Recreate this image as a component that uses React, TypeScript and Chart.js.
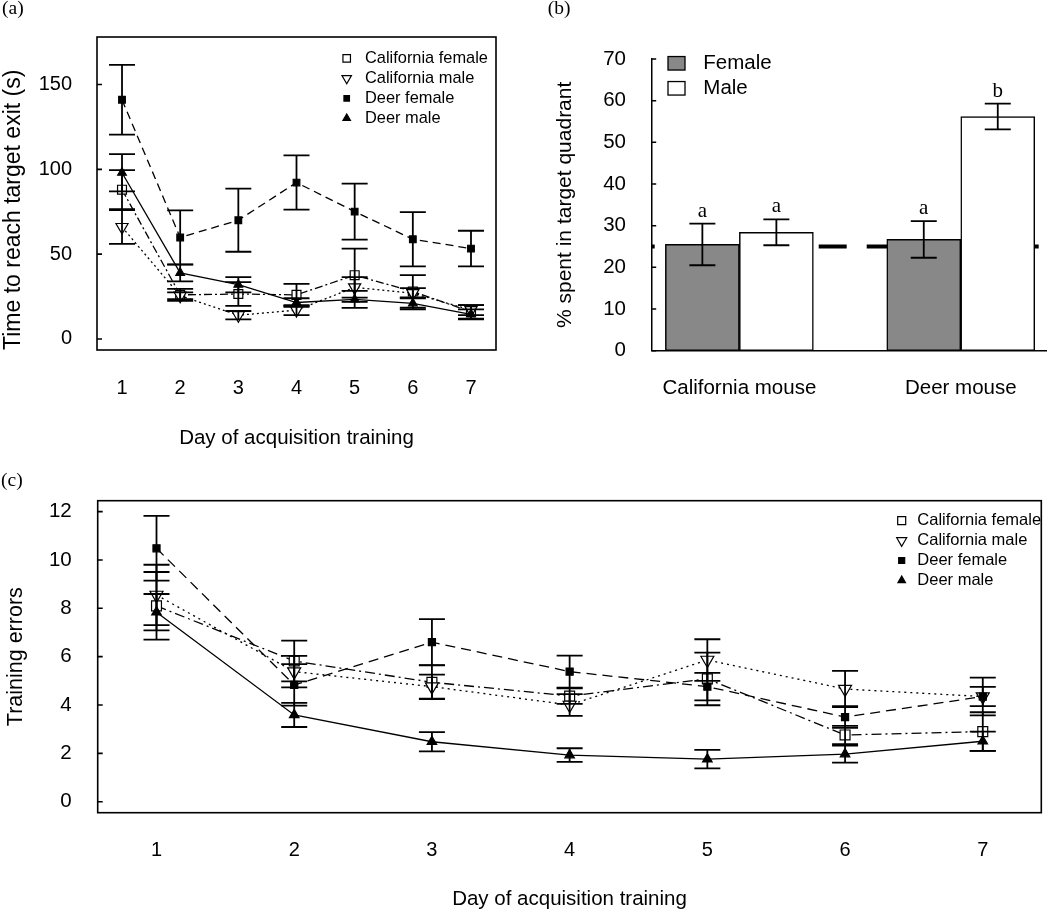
import React, { useEffect, useRef } from 'react';
import { Chart, registerables } from 'chart.js';

Chart.register(...registerables);

const SANS = '"Liberation Sans", Arial, Helvetica, sans-serif';
const SERIF = '"Liberation Serif", "Times New Roman", serif';
Chart.defaults.font.family = SANS;
Chart.defaults.color = '#000';

// ---------------- data ----------------
const DAYS = [1, 2, 3, 4, 5, 6, 7];
const GROUPS = ['California female', 'California male', 'Deer female', 'Deer male'];

// (a) Time to reach target exit (s)
const TIME_CAL_FEMALE = [88, 26, 26.5, 26, 37.6, 28, 16];
const TIME_CAL_FEMALE_SE = [11.5, 3.5, 7, 6.5, 15.7, 9.6, 4];
const TIME_CAL_MALE = [66, 25.5, 14, 17, 30.4, 27, 17];
const TIME_CAL_MALE_SE = [10, 2, 2.5, 3, 6, 3, 3];
const TIME_DEER_FEMALE = [141, 59.8, 70, 92.2, 75.1, 58.8, 53.3];
const TIME_DEER_FEMALE_SE = [20.6, 16, 18.6, 16, 16.5, 16, 10.5];
const TIME_DEER_MALE = [98, 39, 32, 21.5, 23.3, 21, 14.5];
const TIME_DEER_MALE_SE = [11, 5, 4.5, 2.5, 5, 3.5, 3];
const TIME_TICKS = [0, 50, 100, 150];

// (b) % spent in target quadrant
const SPECIES = ['California mouse', 'Deer mouse'];
const SPECIES_POS = [1, 2];
const SEXES = ['Female', 'Male'];
const QUAD_FEMALE = [25.5, 26.7];
const QUAD_FEMALE_SE = [5, 4.4];
const QUAD_MALE = [28.4, 56.2];
const QUAD_MALE_SE = [3.1, 3.1];
const QUAD_FEMALE_LETTERS = ['a', 'a'];
const QUAD_MALE_LETTERS = ['a', 'b'];
const CHANCE_LEVEL = 25;
const QUAD_TICKS = [0, 10, 20, 30, 40, 50, 60, 70];

// (c) Training errors
const ERR_CAL_FEMALE = [8.1, 5.82, 4.94, 4.37, 5.08, 2.76, 2.9];
const ERR_CAL_FEMALE_SE = [1.4, 0.84, 0.7, 0.32, 1.09, 0.38, 0.8];
const ERR_CAL_MALE = [8.55, 5.38, 4.76, 4.0, 5.86, 4.66, 4.35];
const ERR_CAL_MALE_SE = [1.25, 0.65, 0.5, 0.45, 0.86, 0.75, 0.4];
const ERR_DEER_FEMALE = [10.48, 4.83, 6.6, 5.38, 4.76, 3.5, 4.35];
const ERR_DEER_FEMALE_SE = [1.34, 0.86, 0.95, 0.66, 0.57, 0.45, 0.78];
const ERR_DEER_MALE = [7.84, 3.59, 2.48, 1.93, 1.76, 1.97, 2.5];
const ERR_DEER_MALE_SE = [0.75, 0.5, 0.4, 0.28, 0.38, 0.35, 0.4];
const ERR_TICKS = [0, 2, 4, 6, 8, 10, 12];

// ---------------- styles ----------------
type MarkerKind = 'square' | 'triUp' | 'triDown';
const GROUP_MARKER: MarkerKind[] = ['square', 'triDown', 'square', 'triUp'];
const GROUP_FILLED = [false, false, true, true];
const GROUP_ORDER = [3, 2, 1, 0];
const DASH_A = [[8, 3, 2, 3], [2, 3], [8, 5], []];
const DASH_C = [[10, 4, 2, 4], [2, 4], [10, 6], []];
const RADIUS_A = [6.3, 7, 4.7, 5];
const RADIUS_C = [7, 7.5, 5, 5.5];
const FEMALE_FILL = '#888888';
const MALE_FILL = '#ffffff';

function drawMarker(ctx: CanvasRenderingContext2D, kind: MarkerKind, filled: boolean, x: number, y: number, w: number, lw: number) {
  ctx.beginPath();
  if (kind === 'square') {
    ctx.rect(x - w / 2, y - w / 2, w, w);
  } else {
    const h = (w * Math.sqrt(3)) / 2;
    const dir = kind === 'triUp' ? 1 : -1;
    ctx.moveTo(x, y - (dir * 2 * h) / 3);
    ctx.lineTo(x - w / 2, y + (dir * h) / 3);
    ctx.lineTo(x + w / 2, y + (dir * h) / 3);
    ctx.closePath();
  }
  ctx.fillStyle = filled ? '#000' : '#fff';
  ctx.fill();
  ctx.setLineDash([]);
  ctx.lineWidth = lw;
  ctx.strokeStyle = '#000';
  ctx.stroke();
}

// ---------------- plugins ----------------
function framePlugin(box: boolean, tickLen: number, lw: number) {
  return {
    id: 'frame',
    afterDraw(chart: any) {
      const { ctx, chartArea: ca } = chart;
      const ys = chart.scales.y;
      ctx.save();
      ctx.strokeStyle = '#000';
      ctx.lineWidth = lw;
      ctx.setLineDash([]);
      if (box) ctx.strokeRect(ca.left, ca.top, ca.right - ca.left, ca.bottom - ca.top);
      ctx.beginPath();
      ys.ticks.forEach((t: any) => {
        const py = ys.getPixelForValue(t.value);
        ctx.moveTo(ca.left, py);
        ctx.lineTo(ca.left + tickLen, py);
      });
      ctx.stroke();
      ctx.restore();
    },
  };
}

function errorBarPlugin(capHalf: number, lw: number) {
  return {
    id: 'errorBars',
    afterDatasetsDraw(chart: any) {
      const { ctx } = chart;
      const ys = chart.scales.y;
      ctx.save();
      ctx.strokeStyle = '#000';
      ctx.lineWidth = lw;
      ctx.setLineDash([]);
      chart.data.datasets.forEach((ds: any, i: number) => {
        if (!ds.errors) return;
        const meta = chart.getDatasetMeta(i);
        meta.data.forEach((el: any, j: number) => {
          const v = ds.data[j].y;
          const e = ds.errors[j];
          const x = el.x;
          const yt = ys.getPixelForValue(v + e);
          const yb = ys.getPixelForValue(v - e);
          ctx.beginPath();
          ctx.moveTo(x, yt);
          ctx.lineTo(x, yb);
          ctx.moveTo(x - capHalf, yt);
          ctx.lineTo(x + capHalf, yt);
          ctx.moveTo(x - capHalf, yb);
          ctx.lineTo(x + capHalf, yb);
          ctx.stroke();
        });
      });
      ctx.restore();
    },
  };
}

function markerLegendPlugin(mx: number, tx: number, y0: number, dy: number, sizes: number[], fontSize: number) {
  return {
    id: 'markerLegend',
    afterDraw(chart: any) {
      const { ctx } = chart;
      ctx.save();
      chart.data.datasets.forEach((ds: any, i: number) => {
        const y = y0 + i * dy;
        drawMarker(ctx, GROUP_MARKER[i], GROUP_FILLED[i], mx, y, sizes[i], 1.2);
        ctx.fillStyle = '#000';
        ctx.font = `${fontSize}px ${SANS}`;
        ctx.textBaseline = 'middle';
        ctx.textAlign = 'left';
        ctx.fillText(ds.label, tx, y);
      });
      ctx.restore();
    },
  };
}

function boxLegendPlugin(bx: number, bw: number, bh: number, tx: number, y0: number, dy: number, fontSize: number) {
  return {
    id: 'boxLegend',
    afterDraw(chart: any) {
      const { ctx } = chart;
      ctx.save();
      let row = 0;
      chart.data.datasets.forEach((ds: any) => {
        if (ds.type !== 'bar') return;
        const y = y0 + row * dy;
        ctx.fillStyle = ds.backgroundColor;
        ctx.fillRect(bx, y - bh / 2, bw, bh);
        ctx.strokeStyle = '#000';
        ctx.lineWidth = 1.3;
        ctx.strokeRect(bx, y - bh / 2, bw, bh);
        ctx.fillStyle = '#000';
        ctx.font = `${fontSize}px ${SANS}`;
        ctx.textBaseline = 'middle';
        ctx.textAlign = 'left';
        ctx.fillText(ds.label, tx, y);
        row++;
      });
      ctx.restore();
    },
  };
}

function lettersPlugin(gap: number, fontSize: number) {
  return {
    id: 'letters',
    afterDatasetsDraw(chart: any) {
      const { ctx } = chart;
      const ys = chart.scales.y;
      ctx.save();
      ctx.fillStyle = '#000';
      ctx.font = `${fontSize}px ${SERIF}`;
      ctx.textAlign = 'center';
      ctx.textBaseline = 'alphabetic';
      chart.data.datasets.forEach((ds: any, i: number) => {
        if (!ds.letters) return;
        const meta = chart.getDatasetMeta(i);
        meta.data.forEach((el: any, j: number) => {
          const top = ys.getPixelForValue(ds.data[j].y + (ds.errors ? ds.errors[j] : 0));
          ctx.fillText(ds.letters[j], el.x, top - gap);
        });
      });
      ctx.restore();
    },
  };
}

function panelLabelPlugin(text: string, x: number, y: number, align: CanvasTextAlign) {
  return {
    id: 'panelLabel',
    afterDraw(chart: any) {
      const { ctx } = chart;
      ctx.save();
      ctx.fillStyle = '#000';
      ctx.font = `19.5px ${SERIF}`;
      ctx.textAlign = align;
      ctx.textBaseline = 'middle';
      ctx.fillText(text, x, y);
      ctx.restore();
    },
  };
}

// ---------------- builders ----------------
function lineDatasets(means: number[][], ses: number[][], dashes: number[][], radii: number[]) {
  return means.map((m, i) => ({
    type: 'line',
    label: GROUPS[i],
    data: DAYS.map((d, j) => ({ x: d, y: m[j] })),
    errors: ses[i],
    order: GROUP_ORDER[i],
    borderColor: '#000',
    borderWidth: 1.3,
    borderDash: dashes[i],
    pointStyle: GROUP_MARKER[i] === 'square' ? 'rect' : 'triangle',
    pointRotation: GROUP_MARKER[i] === 'triDown' ? 180 : 0,
    pointRadius: radii[i],
    pointBackgroundColor: GROUP_FILLED[i] ? '#000' : '#fff',
    pointBorderColor: '#000',
    pointBorderWidth: 1.2,
    tension: 0,
    fill: false,
  }));
}

function dayAxis(min: number, max: number, height: number, tickPad: number, titlePad: number) {
  return {
    type: 'linear',
    min,
    max,
    afterBuildTicks: (s: any) => {
      s.ticks = DAYS.map((v) => ({ value: v }));
    },
    afterFit: (s: any) => {
      s.height = height;
    },
    grid: { display: false, drawTicks: false },
    border: { display: false },
    ticks: { font: { size: 20 }, padding: tickPad, autoSkip: false, maxRotation: 0, callback: (v: any) => String(v) },
    title: { display: true, text: 'Day of acquisition training', font: { size: 20.5 }, padding: { top: 0, bottom: titlePad } },
  };
}

function makeTimeChart(): any {
  return {
    type: 'line',
    data: {
      datasets: lineDatasets(
        [TIME_CAL_FEMALE, TIME_CAL_MALE, TIME_DEER_FEMALE, TIME_DEER_MALE],
        [TIME_CAL_FEMALE_SE, TIME_CAL_MALE_SE, TIME_DEER_FEMALE_SE, TIME_DEER_MALE_SE],
        DASH_A,
        RADIUS_A,
      ),
    },
    options: {
      responsive: false,
      animation: false,
      layout: { padding: { left: 0, top: 37, right: 24, bottom: 0 } },
      plugins: { legend: { display: false }, tooltip: { enabled: false } },
      scales: {
        x: dayAxis(0.57, 7.43, 105, 26, 4.7),
        y: {
          type: 'linear',
          min: -6.5,
          max: 178,
          afterBuildTicks: (s: any) => {
            s.ticks = TIME_TICKS.map((v) => ({ value: v }));
          },
          afterFit: (s: any) => {
            s.width = 97;
          },
          grid: { display: false, drawTicks: false },
          border: { display: false },
          ticks: { font: { size: 20 }, padding: 25, callback: (v: any) => String(v) },
          title: {
            display: true,
            text: 'Time to reach target exit (s)',
            font: { size: 23 },
            align: 'start',
            padding: { top: 0, bottom: 0 },
          },
        },
      },
    },
    plugins: [
      framePlugin(true, 5, 1.6),
      errorBarPlugin(13, 1.8),
      markerLegendPlugin(346.7, 365, 58.3, 20, [7.5, 9.5, 5.5, 7.5], 16.4),
      panelLabelPlugin('(a)', 2, 9, 'left'),
    ],
  };
}

function makeErrorsChart(): any {
  return {
    type: 'line',
    data: {
      datasets: lineDatasets(
        [ERR_CAL_FEMALE, ERR_CAL_MALE, ERR_DEER_FEMALE, ERR_DEER_MALE],
        [ERR_CAL_FEMALE_SE, ERR_CAL_MALE_SE, ERR_DEER_FEMALE_SE, ERR_DEER_MALE_SE],
        DASH_C,
        RADIUS_C,
      ),
    },
    options: {
      responsive: false,
      animation: false,
      layout: { padding: { left: 0, top: 45.7, right: 1, bottom: 0 } },
      plugins: { legend: { display: false }, tooltip: { enabled: false } },
      scales: {
        x: dayAxis(0.573, 7.425, 99.3, 25.3, 0),
        y: {
          type: 'linear',
          min: -0.455,
          max: 12.45,
          afterBuildTicks: (s: any) => {
            s.ticks = ERR_TICKS.map((v) => ({ value: v }));
          },
          afterFit: (s: any) => {
            s.width = 97.7;
          },
          grid: { display: false, drawTicks: false },
          border: { display: false },
          ticks: { font: { size: 20.5 }, padding: 26, callback: (v: any) => String(v) },
          title: { display: true, text: 'Training errors', font: { size: 21.5 }, padding: { top: 2.7, bottom: 0 } },
        },
      },
    },
    plugins: [
      framePlugin(true, 5, 1.6),
      errorBarPlugin(13, 1.8),
      markerLegendPlugin(901.7, 917.3, 65.7, 19.9, [8, 10, 6, 7.5], 16.5),
      panelLabelPlugin('(c)', 1, 26, 'left'),
    ],
  };
}

function makeQuadChart(): any {
  const xMin = 0.604;
  const xMax = 2.385;
  return {
    type: 'bar',
    data: {
      datasets: [
        {
          type: 'bar',
          label: SEXES[0],
          data: SPECIES_POS.map((x, i) => ({ x, y: QUAD_FEMALE[i] })),
          errors: QUAD_FEMALE_SE,
          letters: QUAD_FEMALE_LETTERS,
          backgroundColor: FEMALE_FILL,
          borderColor: '#000',
          borderWidth: 1.5,
          borderSkipped: false,
          barThickness: 74,
          order: 1,
        },
        {
          type: 'bar',
          label: SEXES[1],
          data: SPECIES_POS.map((x, i) => ({ x, y: QUAD_MALE[i] })),
          errors: QUAD_MALE_SE,
          letters: QUAD_MALE_LETTERS,
          backgroundColor: MALE_FILL,
          borderColor: '#000',
          borderWidth: 1.5,
          borderSkipped: false,
          barThickness: 74,
          order: 1,
        },
        {
          type: 'line',
          label: 'Chance',
          data: [
            { x: xMin, y: CHANCE_LEVEL },
            { x: xMax, y: CHANCE_LEVEL },
          ],
          borderColor: '#000',
          borderWidth: 4,
          borderDash: [28, 20],
          borderDashOffset: 25,
          pointRadius: 0,
          order: 2,
        },
      ],
    },
    options: {
      responsive: false,
      animation: false,
      layout: { padding: { left: 0, top: 59, right: 4, bottom: 0 } },
      plugins: { legend: { display: false }, tooltip: { enabled: false } },
      scales: {
        x: {
          type: 'linear',
          min: xMin,
          max: xMax,
          offset: false,
          afterBuildTicks: (s: any) => {
            s.ticks = SPECIES_POS.map((v) => ({ value: v }));
          },
          afterFit: (s: any) => {
            s.height = 89.3;
          },
          grid: { display: false, drawTicks: false },
          border: { display: true, color: '#000', width: 1.5 },
          ticks: {
            font: { size: 20.5 },
            padding: 25.3,
            autoSkip: false,
            maxRotation: 0,
            callback: (v: any) => {
              const k = SPECIES_POS.indexOf(Number(v));
              return k >= 0 ? SPECIES[k] : '';
            },
          },
        },
        y: {
          type: 'linear',
          min: 0,
          max: 70,
          afterBuildTicks: (s: any) => {
            s.ticks = QUAD_TICKS.map((v) => ({ value: v }));
          },
          afterFit: (s: any) => {
            s.width = 131.7;
          },
          grid: { display: false, drawTicks: false },
          border: { display: true, color: '#000', width: 1.5 },
          ticks: { font: { size: 20.5 }, padding: 25.7, callback: (v: any) => String(v) },
          title: { display: true, text: '% spent in target quadrant', font: { size: 21 }, padding: { top: 32.7, bottom: 0 } },
        },
      },
    },
    plugins: [
      framePlugin(false, 4.5, 1.5),
      errorBarPlugin(13, 1.8),
      lettersPlugin(7, 21),
      boxLegendPlugin(148, 17, 13.5, 183.3, 63.3, 25, 20.5),
      panelLabelPlugin('(b)', 39, 9, 'center'),
    ],
  };
}

// ---------------- components ----------------
function ChartPanel({ left, top, width, height, make }: { left: number; top: number; width: number; height: number; make: () => any }) {
  const ref = useRef<HTMLCanvasElement | null>(null);
  useEffect(() => {
    if (!ref.current) return;
    const chart = new Chart(ref.current, make());
    return () => chart.destroy();
  }, [make]);
  return (
    <div style={{ position: 'absolute', left, top, width, height }}>
      <canvas ref={ref} width={width} height={height} style={{ display: 'block', width, height }} />
    </div>
  );
}

export default function App() {
  return (
    <div style={{ position: 'absolute', left: 0, top: 0, width: 1050, height: 912, background: '#fff', overflow: 'hidden' }}>
      <ChartPanel left={0} top={0} width={520} height={455} make={makeTimeChart} />
      <ChartPanel left={520} top={0} width={530} height={440} make={makeQuadChart} />
      <ChartPanel left={0} top={455} width={1050} height={457} make={makeErrorsChart} />
    </div>
  );
}
